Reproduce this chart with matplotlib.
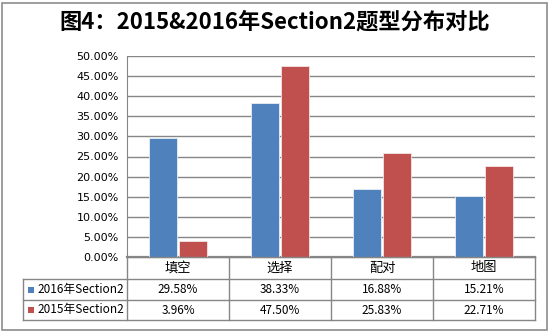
import matplotlib
matplotlib.use("Agg")
import matplotlib.pyplot as plt
from matplotlib.patches import Rectangle
from matplotlib.transforms import blended_transform_factory
import numpy as np

plt.rcParams['font.family'] = ['Noto Sans CJK SC', 'DejaVu Sans']

# 数据
categories = ['填空', '选择', '配对', '地图']
series_names = ['2016年Section2', '2015年Section2']
values_2016 = [0.2958, 0.3833, 0.1688, 0.1521]
values_2015 = [0.0396, 0.4750, 0.2583, 0.2271]
colors = ['#4F81BD', '#C0504D']

W, H = 550, 332
fig = plt.figure(figsize=(W / 100, H / 100), dpi=100)
fig.patch.set_facecolor('white')

# 外框
fig.add_artist(Rectangle((2 / W, 2 / H), (W - 5) / W, (H - 5) / H,
                         transform=fig.transFigure, fill=False,
                         edgecolor='#8c8c8c', linewidth=1.2))

fig.text(0.5, 1 - 22 / H, '图4：2015&2016年Section2题型分布对比',
         ha='center', va='center', fontsize=16, fontweight='bold', color='black')

left, right, top, bottom = 127, 535, 56, 257
ax = fig.add_axes([left / W, (H - bottom) / H, (right - left) / W, (bottom - top) / H])

x = np.arange(len(categories))
bw = 0.275
ax.bar(x - bw / 2 - 0.005, values_2016, bw, color=colors[0], edgecolor='#e8eef6', linewidth=0.6, zorder=3)
ax.bar(x + bw / 2 + 0.005, values_2015, bw, color=colors[1], edgecolor='#f3e6e6', linewidth=0.6, zorder=3)

ax.set_xlim(-0.5, len(categories) - 0.5)
ax.set_ylim(0, 0.5)
yt = np.arange(0, 0.501, 0.05)
ax.set_yticks(yt)
ax.set_yticklabels(['%.2f%%' % (v * 100) for v in yt], family='DejaVu Sans', fontsize=8)
ax.tick_params(axis='y', length=0, pad=6)
ax.set_xticks([])
ax.grid(axis='y', color='#868686', linewidth=1.0, zorder=0)
for s in ['top', 'right']:
    ax.spines[s].set_visible(False)
ax.spines['left'].set_color('#868686')
ax.spines['bottom'].set_color('#868686')
ax.spines['bottom'].set_linewidth(1.6)

# 数据表
tr = blended_transform_factory(ax.transData, fig.transFigure)
fy = lambda py: 1 - py / H
fx = lambda px: px / W
line_kw = dict(color='#868686', linewidth=1.0, clip_on=False)
row_y = [257, 279, 300, 320]
tbl_left = 23

# 横线
fig.add_artist(plt.Line2D([fx(left), fx(right)], [fy(row_y[0])] * 2, transform=fig.transFigure, **line_kw))
for yy in row_y[1:]:
    fig.add_artist(plt.Line2D([fx(tbl_left), fx(right)], [fy(yy)] * 2, transform=fig.transFigure, **line_kw))
# 竖线
fig.add_artist(plt.Line2D([fx(tbl_left)] * 2, [fy(row_y[1]), fy(row_y[3])], transform=fig.transFigure, **line_kw))
for b in np.arange(len(categories) + 1) - 0.5:
    fig.add_artist(plt.Line2D([b, b], [fy(row_y[0]), fy(row_y[3])], transform=tr, **line_kw))

for i, c in enumerate(categories):
    fig.text(i, fy((row_y[0] + row_y[1]) / 2), c, transform=tr, ha='center', va='center', fontsize=9.5)

rows = [values_2016, values_2015]
for r, (name, vals) in enumerate(zip(series_names, rows)):
    yc = fy((row_y[r + 1] + row_y[r + 2]) / 2)
    fig.add_artist(Rectangle((fx(28), yc - 3 / H), 6 / W, 6 / H, transform=fig.transFigure,
                             facecolor=colors[r], edgecolor='none'))
    fig.text(fx(37), yc, name, ha='left', va='center', fontsize=8.5)
    for i, v in enumerate(vals):
        fig.text(i, yc, '%.2f%%' % (v * 100), transform=tr, ha='center', va='center', fontsize=8.5)

fig.savefig('out.png', dpi=100)
